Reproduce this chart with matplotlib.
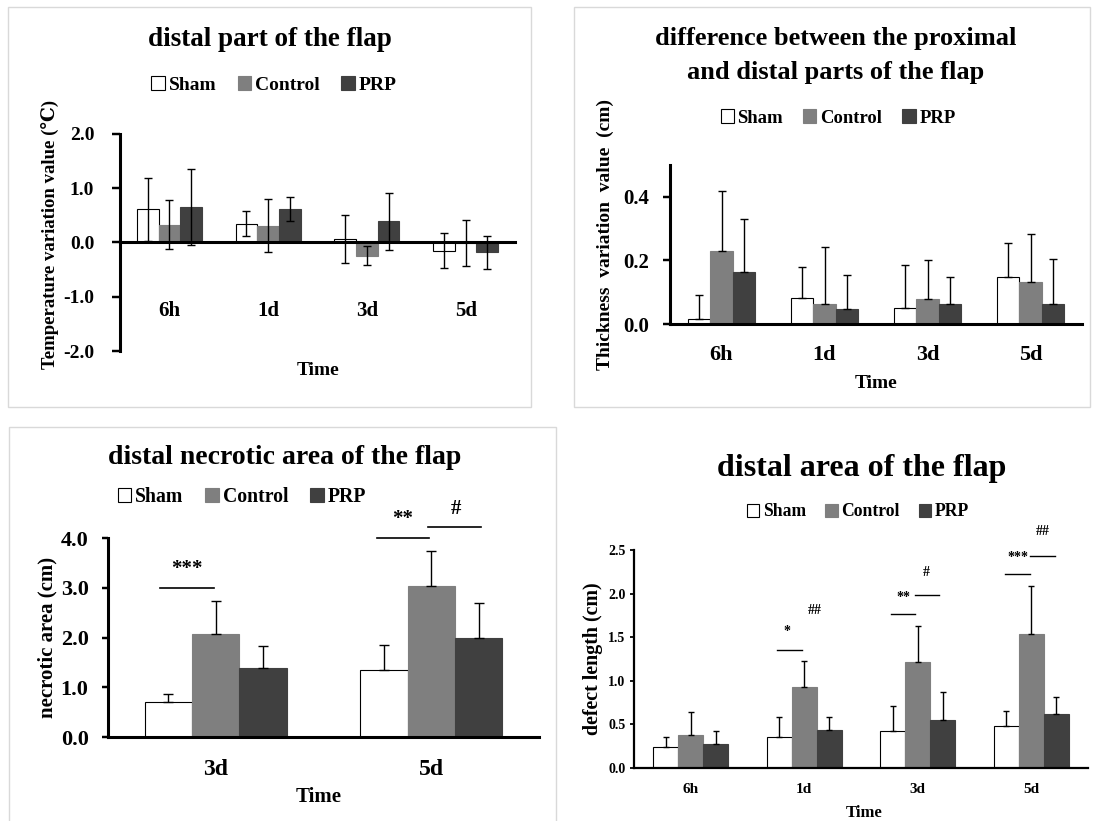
import numpy as np
import matplotlib
matplotlib.use("Agg")
import matplotlib.pyplot as plt
from matplotlib.patches import Rectangle, Patch

plt.rcParams['font.family'] = ['Liberation Serif', 'DejaVu Serif']
plt.rcParams['font.weight'] = 'bold'

W, H = 1099, 821

groups = ['Sham', 'Control', 'PRP']
colors = ['white', '#7f7f7f', '#404040']

# panel A: temperature variation, distal part
temp_times = ['6h', '1d', '3d', '5d']
temp_sham = [0.61, 0.35, 0.06, -0.15]
temp_sham_sd = [0.58, 0.23, 0.44, 0.32]
temp_ctrl = [0.33, 0.31, -0.24, -0.01]
temp_ctrl_sd = [0.45, 0.49, 0.18, 0.43]
temp_prp = [0.65, 0.61, 0.39, -0.18]
temp_prp_sd = [0.70, 0.22, 0.53, 0.30]

# panel B: thickness difference proximal/distal
thick_times = ['6h', '1d', '3d', '5d']
thick_sham = [0.016, 0.082, 0.050, 0.148]
thick_sham_sd = [0.076, 0.097, 0.136, 0.106]
thick_ctrl = [0.231, 0.063, 0.080, 0.132]
thick_ctrl_sd = [0.188, 0.180, 0.120, 0.151]
thick_prp = [0.164, 0.047, 0.064, 0.064]
thick_prp_sd = [0.166, 0.106, 0.084, 0.139]

# panel C: necrotic area
necro_times = ['3d', '5d']
necro_sham = [0.70, 1.34]
necro_sham_sd = [0.17, 0.51]
necro_ctrl = [2.08, 3.04]
necro_ctrl_sd = [0.65, 0.69]
necro_prp = [1.39, 1.98]
necro_prp_sd = [0.43, 0.72]
# (category, line x0, line x1, line y, label, label x, label y)
necro_marks = [(0, -0.26, -0.01, 3.0, '***', -0.135, 3.38),
               (1, -0.25, -0.01, 3.99, '**', -0.135, 4.38),
               (1, -0.015, 0.23, 4.22, '#', 0.115, 4.58)]

# panel D: defect length
defect_times = ['6h', '1d', '3d', '5d']
defect_sham = [0.24, 0.36, 0.43, 0.48]
defect_sham_sd = [0.12, 0.23, 0.28, 0.17]
defect_ctrl = [0.38, 0.93, 1.21, 1.54]
defect_ctrl_sd = [0.26, 0.30, 0.42, 0.55]
defect_prp = [0.27, 0.44, 0.55, 0.62]
defect_prp_sd = [0.16, 0.15, 0.32, 0.19]
defect_marks = [(1, -0.24, -0.02, 1.35, '*', -0.15, 1.56),
                (1, None, None, None, '##', 0.096, 1.81),
                (2, -0.24, -0.02, 1.77, '**', -0.13, 1.95),
                (2, -0.02, 0.19, 1.98, '#', 0.075, 2.24),
                (3, -0.23, -0.015, 2.23, '***', -0.12, 2.41),
                (3, -0.01, 0.21, 2.43, '##', 0.10, 2.71)]

fig = plt.figure(figsize=(W / 100, H / 100), dpi=100)


def px_axes(l, t, r, b):
    return fig.add_axes([l / W, 1 - b / H, (r - l) / W, (b - t) / H])


def ftext(x, y, s, **kw):
    fig.text(x / W, 1 - y / H, s, ha='center', va='center', **kw)


def frame(l, t, r, b):
    fig.patches.append(Rectangle((l / W, 1 - b / H), (r - l) / W, (b - t) / H,
                                 transform=fig.transFigure, fill=False,
                                 edgecolor='#d9d9d9', lw=1.0))


def legend(x, y, size):
    handles = [Patch(facecolor=c, edgecolor='black' if c == 'white' else c, lw=0.8)
               for c in colors]
    fig.legend(handles, groups, loc='center', bbox_to_anchor=(x / W, 1 - y / H),
               ncol=3, frameon=False, prop={'size': size, 'weight': 'bold'},
               handlelength=0.7, handleheight=0.7, handletextpad=0.2,
               columnspacing=1.1, borderpad=0)


def bars(ax, means, sds, both, lw_err=1.0, cap=3):
    x = np.arange(len(means[0]))
    w = 0.22
    for k in range(3):
        m = np.array(means[k])
        s = np.array(sds[k])
        yerr = s if both else [np.zeros_like(s), s]
        ax.bar(x + (k - 1) * w, m, w, color=colors[k],
               edgecolor='black' if k == 0 else colors[k], lw=0.8, zorder=2)
        ax.errorbar(x + (k - 1) * w, m, yerr=yerr, fmt='none', ecolor='black',
                    elinewidth=lw_err, capsize=cap, capthick=lw_err, zorder=3)
    return x


def style(ax, lw, tick_len, tick_pad, size, xpad, labels):
    for s in ['top', 'right']:
        ax.spines[s].set_visible(False)
    ax.spines['left'].set_linewidth(lw)
    ax.spines['bottom'].set_linewidth(lw)
    ax.spines['bottom'].set_zorder(4)
    ax.tick_params(axis='y', direction='out', length=tick_len, width=lw * 0.8,
                   pad=tick_pad, labelsize=size)
    ax.set_xticks(range(len(labels)))
    ax.set_xticklabels(labels, fontsize=size + 1, fontweight='bold')
    ax.tick_params(axis='x', length=0, pad=xpad)
    for t in ax.get_yticklabels():
        t.set_fontweight('bold')


# ---- panel A ----
frame(8, 7, 531, 407)
ax1 = px_axes(120, 134, 515, 351)
bars(ax1, [temp_sham, temp_ctrl, temp_prp],
     [temp_sham_sd, temp_ctrl_sd, temp_prp_sd], True)
ax1.set_ylim(-2, 2)
ax1.set_xlim(-0.5, 3.5)
ax1.set_yticks([-2, -1, 0, 1, 2])
ax1.set_yticklabels(['-2.0', '-1.0', '0.0', '1.0', '2.0'])
ax1.spines['bottom'].set_position(('data', 0))
style(ax1, 2.2, 5.5, 13, 14, 42, temp_times)
ftext(270, 40, 'distal part of the flap', fontsize=19.5, fontweight='bold')
legend(274, 85, 14)
ftext(50, 234, 'Temperature variation value (\u2103)', fontsize=13.5,
      fontweight='bold', rotation=90)
ftext(318, 370, 'Time', fontsize=14, fontweight='bold')

# ---- panel B ----
frame(574, 7, 1090, 407)
ax2 = px_axes(670, 165, 1082, 324)
bars(ax2, [thick_sham, thick_ctrl, thick_prp],
     [thick_sham_sd, thick_ctrl_sd, thick_prp_sd], False)
ax2.set_ylim(0, 0.5)
ax2.set_xlim(-0.5, 3.5)
ax2.set_yticks([0, 0.2, 0.4])
ax2.set_yticklabels(['0.0', '0.2', '0.4'])
style(ax2, 2.2, 5, 10, 15, 15, thick_times)
ftext(836, 38, 'difference between the proximal', fontsize=19, fontweight='bold')
ftext(836, 72, 'and distal parts of the flap', fontsize=19, fontweight='bold')
legend(838, 118, 13.4)
ftext(605, 235, 'Thickness  variation  value  (cm)', fontsize=14,
      fontweight='bold', rotation=90)
ftext(876, 383, 'Time', fontsize=14, fontweight='bold')

# ---- panel C ----
frame(9, 427, 556, 830)
ax3 = px_axes(108, 538, 539, 737)
bars(ax3, [necro_sham, necro_ctrl, necro_prp],
     [necro_sham_sd, necro_ctrl_sd, necro_prp_sd], False, cap=3.5)
ax3.set_ylim(0, 4)
ax3.set_xlim(-0.5, 1.5)
ax3.set_yticks([0, 1, 2, 3, 4])
ax3.set_yticklabels(['0.0', '1.0', '2.0', '3.0', '4.0'])
style(ax3, 2.2, 4, 10, 16, 16, necro_times)
for c, x0, x1, yl, lab, tx, ty in necro_marks:
    ax3.plot([c + x0, c + x1], [yl, yl], color='black', lw=1.2, clip_on=False)
    ax3.text(c + tx, ty, lab, ha='center', va='center', fontsize=15,
             fontweight='bold')
ftext(285, 457, 'distal necrotic area of the flap', fontsize=20, fontweight='bold')
legend(242, 497, 14.2)
ftext(47, 637, 'necrotic area (cm)', fontsize=15, fontweight='bold', rotation=90)
ftext(319, 797, 'Time', fontsize=15, fontweight='bold')

# ---- panel D ----
ax4 = px_axes(634, 550, 1088, 768)
bars(ax4, [defect_sham, defect_ctrl, defect_prp],
     [defect_sham_sd, defect_ctrl_sd, defect_prp_sd], False, lw_err=1.0, cap=2.5)
ax4.set_ylim(0, 2.5)
ax4.set_xlim(-0.5, 3.5)
ax4.set_yticks([0, 0.5, 1.0, 1.5, 2.0, 2.5])
ax4.set_yticklabels(['0.0', '0.5', '1.0', '1.5', '2.0', '2.5'])
style(ax4, 1.6, 3, 3, 10, 11, defect_times)
for c, x0, x1, yl, lab, tx, ty in defect_marks:
    if x0 is not None:
        ax4.plot([c + x0, c + x1], [yl, yl], color='black', lw=1.0, clip_on=False)
    ax4.text(c + tx, ty, lab, ha='center', va='center', fontsize=10,
             fontweight='bold')
ftext(862, 468, 'distal area of the flap', fontsize=23, fontweight='bold')
legend(858, 512, 12.7)
ftext(593, 659, 'defect length (cm)', fontsize=14.4, fontweight='bold', rotation=90)
ftext(864, 813, 'Time', fontsize=12, fontweight='bold')

fig.savefig('out.png', dpi=100)
